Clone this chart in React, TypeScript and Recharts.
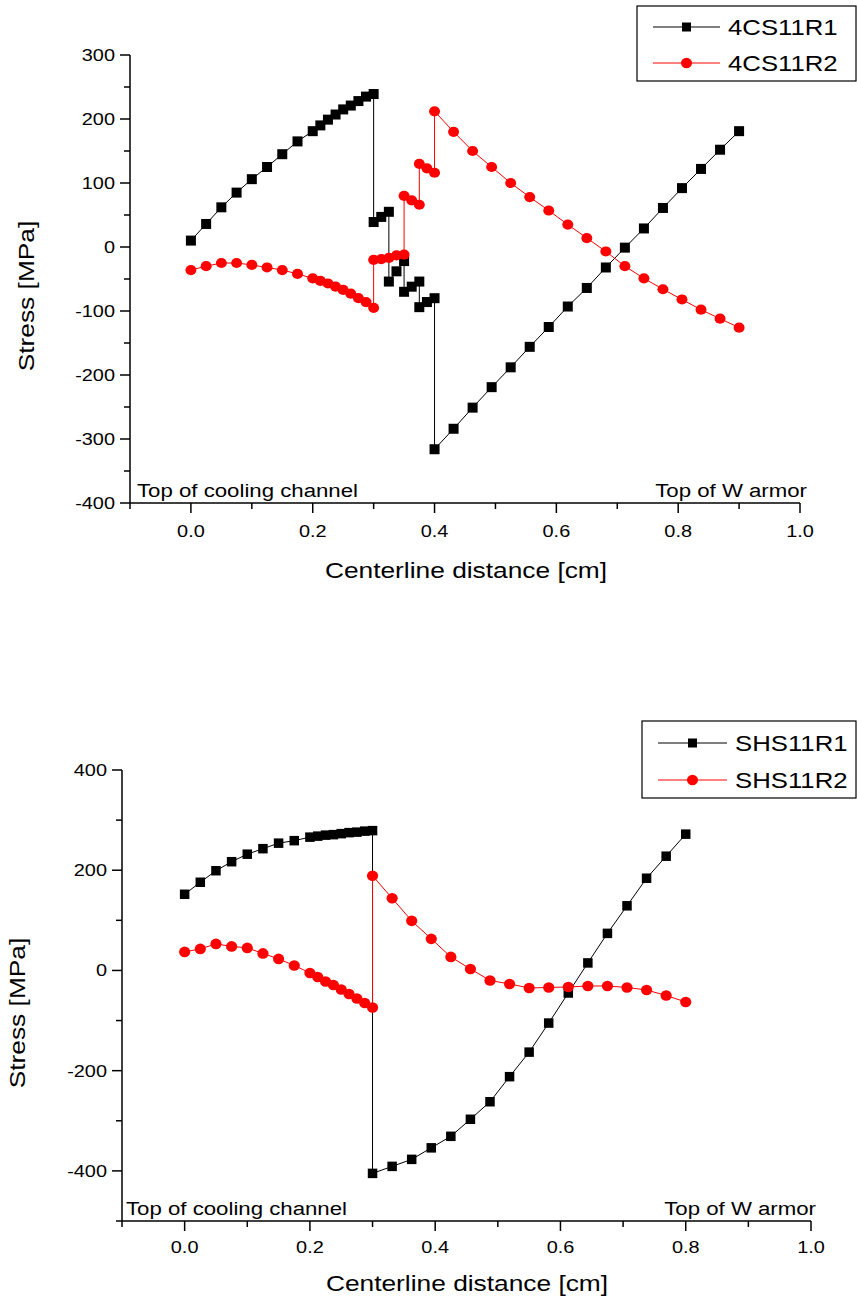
import React from "react";
import { ScatterChart, Scatter, XAxis, YAxis } from "recharts";

const FONT = '"Liberation Sans", Arial, Helvetica, sans-serif';
const SX = 1.17; // the reference text is a little wider than plain Arial

// ---- top panel: 4CS11 ----
const topNames = ["4CS11R1", "4CS11R2"];
const topXR1 = [
  0, 0.025, 0.05, 0.075, 0.1, 0.125, 0.15, 0.175, 0.2, 0.2125, 0.225, 0.2375, 0.25, 0.2625, 0.275, 0.2875, 0.3,
  0.3, 0.3125, 0.325, 0.325, 0.3375, 0.35, 0.35, 0.3625, 0.375, 0.375, 0.3875, 0.4,
  0.4, 0.43125, 0.4625, 0.49375, 0.525, 0.55625, 0.5875, 0.61875, 0.65, 0.68125, 0.7125, 0.74375, 0.775, 0.80625,
  0.8375, 0.86875, 0.9,
];
const topYR1 = [
  10, 36, 62, 85, 106, 125, 145, 165, 181, 190, 199, 207, 215, 221, 228, 235, 239,
  39, 47, 55, -54, -38, -22, -70, -62, -54, -94, -86, -80,
  -316, -284, -251, -219, -188, -156, -125, -93, -64, -32, -1, 29, 61, 92, 122, 152, 181,
];
const topXR2 = [
  0, 0.025, 0.05, 0.075, 0.1, 0.125, 0.15, 0.175, 0.2, 0.2125, 0.225, 0.2375, 0.25, 0.2625, 0.275, 0.2875, 0.3,
  0.3, 0.3125, 0.325, 0.3375, 0.35, 0.35, 0.3625, 0.375, 0.375, 0.3875, 0.4,
  0.4, 0.43125, 0.4625, 0.49375, 0.525, 0.55625, 0.5875, 0.61875, 0.65, 0.68125, 0.7125, 0.74375, 0.775, 0.80625,
  0.8375, 0.86875, 0.9,
];
const topYR2 = [
  -36, -30, -25, -25, -28, -32, -36, -42, -49, -53, -57, -62, -67, -73, -80, -86, -95,
  -20, -19, -17, -13, -12, 80, 73, 66, 130, 123, 116,
  212, 180, 150, 125, 100, 78, 57, 35, 14, -7, -30, -49, -66, -82, -98, -112, -126,
];
const topYTicks = [-400, -350, -300, -250, -200, -150, -100, -50, 0, 50, 100, 150, 200, 250, 300];

// ---- bottom panel: SHS11 ----
const botNames = ["SHS11R1", "SHS11R2"];
const botX = [
  0, 0.025, 0.05, 0.075, 0.1, 0.125, 0.15, 0.175, 0.2, 0.2125, 0.225, 0.2375, 0.25, 0.2625, 0.275, 0.2875, 0.3,
  0.3, 0.33125, 0.3625, 0.39375, 0.425, 0.45625, 0.4875, 0.51875, 0.55, 0.58125, 0.6125, 0.64375, 0.675, 0.70625,
  0.7375, 0.76875, 0.8,
];
const botYR1 = [
  152, 176, 199, 217, 232, 243, 254, 259, 266, 268, 270, 271, 273, 275, 276, 278, 279,
  -405, -391, -377, -354, -331, -297, -262, -212, -163, -105, -45, 15, 74, 129, 184, 228, 272,
];
const botYR2 = [
  37, 43, 53, 48, 45, 34, 23, 10, -5, -13, -22, -29, -38, -47, -56, -65, -74,
  189, 144, 99, 63, 27, 3, -20, -27, -35, -34, -33, -31, -31, -34, -39, -50, -63,
];
const botYTicks = [-500, -400, -300, -200, -100, 0, 100, 200, 300, 400];

const xTicks = [-0.1, 0, 0.1, 0.2, 0.3, 0.4, 0.5, 0.6, 0.7, 0.8, 0.9, 1.0];

const zip = (xs: number[], ys: number[]) => xs.map((x, i) => ({ x, y: ys[i] }));

function YTick(props: any) {
  const { x, y, payload, step } = props;
  const v = payload.value;
  const major = Math.abs(v % step) < 1e-6;
  return (
    <g>
      <line x1={x} x2={x - (major ? 10 : 6)} y1={y} y2={y} stroke="#000" strokeWidth={1.5} />
      {major && (
        <text
          transform={`translate(${x - 15},${y + 6}) scale(${SX},1)`}
          textAnchor="end"
          fontSize={17}
          fontFamily={FONT}
          fill="#000"
        >
          {v}
        </text>
      )}
    </g>
  );
}

function XTick(props: any) {
  const { x, y, payload, dy } = props;
  const v = payload.value;
  const major = Math.round(v * 10) % 2 === 0;
  return (
    <g>
      <line x1={x} x2={x} y1={y} y2={y + (major ? 10 : 6)} stroke="#000" strokeWidth={1.5} />
      {major && (
        <text
          transform={`translate(${x},${y + dy}) scale(${SX},1)`}
          textAnchor="middle"
          fontSize={17}
          fontFamily={FONT}
          fill="#000"
        >
          {v.toFixed(1)}
        </text>
      )}
    </g>
  );
}

const square = (size: number) => (p: any) =>
  <rect x={p.cx - size / 2} y={p.cy - size / 2} width={size} height={size} fill="#000" />;
const dot = (rx: number, ry: number) => (p: any) =>
  <ellipse cx={p.cx} cy={p.cy} rx={rx} ry={ry} fill="#ff0000" />;

function Panel(props: {
  top: number; height: number; margin: any; yDomain: number[]; yTicks: number[]; yStep: number;
  r1: { x: number; y: number }[]; r2: { x: number; y: number }[]; sq: number; rx: number; ry: number; labelDy: number;
}) {
  const { top, height, margin, yDomain, yTicks, yStep, r1, r2, sq, rx, ry, labelDy } = props;
  return (
    <div style={{ position: "absolute", left: 0, top }}>
      <ScatterChart width={857} height={height} margin={margin}>
        <XAxis
          type="number"
          dataKey="x"
          domain={[-0.1, 1.0]}
          ticks={xTicks}
          interval={0}
          height={40}
          tickSize={0}
          tickMargin={0}
          axisLine={{ stroke: "#000", strokeWidth: 1.5 }}
          tick={(p: any) => <XTick {...p} dy={labelDy} />}
          allowDataOverflow
        />
        <YAxis
          type="number"
          dataKey="y"
          domain={yDomain}
          ticks={yTicks}
          interval={0}
          width={60}
          tickSize={0}
          tickMargin={0}
          axisLine={{ stroke: "#000", strokeWidth: 1.5 }}
          tick={(p: any) => <YTick {...p} step={yStep} />}
          allowDataOverflow
        />
        <Scatter data={r1} line={{ stroke: "#000", strokeWidth: 1 }} shape={square(sq)} isAnimationActive={false} />
        <Scatter data={r2} line={{ stroke: "#ff0000", strokeWidth: 1 }} shape={dot(rx, ry)} isAnimationActive={false} />
      </ScatterChart>
    </div>
  );
}

function Txt(props: { x: number; y: number; size: number; anchor?: string; rotate?: boolean; children: any }) {
  const { x, y, size, anchor = "start", rotate, children } = props;
  return (
    <text
      transform={`translate(${x},${y})${rotate ? " rotate(-90)" : ""} scale(${SX},1)`}
      textAnchor={anchor}
      fontSize={size}
      fontFamily={FONT}
      fill="#000"
    >
      {children}
    </text>
  );
}

function LegendBox(props: { x: number; y: number; w: number; h: number; rows: number[]; l0: number; l1: number; tx: number; names: string[] }) {
  const { x, y, w, h, rows, l0, l1, tx, names } = props;
  const mid = (l0 + l1) / 2;
  return (
    <g>
      <rect x={x} y={y} width={w} height={h} fill="#fff" stroke="#000" strokeWidth={1.2} />
      <line x1={l0} x2={l1} y1={rows[0]} y2={rows[0]} stroke="#000" strokeWidth={1} />
      <rect x={mid - 4.5} y={rows[0] - 4.5} width={9} height={9} fill="#000" />
      <line x1={l0} x2={l1} y1={rows[1]} y2={rows[1]} stroke="#ff0000" strokeWidth={1} />
      <ellipse cx={mid} cy={rows[1]} rx={5.5} ry={5.2} fill="#ff0000" />
      <Txt x={tx} y={rows[0] + 8} size={22}>{names[0]}</Txt>
      <Txt x={tx} y={rows[1] + 8} size={22}>{names[1]}</Txt>
    </g>
  );
}

export default function App() {
  return (
    <div style={{ position: "absolute", left: 0, top: 0, width: 857, height: 1301, background: "#fff" }}>
      <Panel
        top={0}
        height={620}
        margin={{ top: 55, right: 57, bottom: 77, left: 70 }}
        yDomain={[-400, 300]}
        yTicks={topYTicks}
        yStep={100}
        r1={zip(topXR1, topYR1)}
        r2={zip(topXR2, topYR2)}
        sq={10}
        rx={5.5}
        ry={5.1}
        labelDy={34}
      />
      <Panel
        top={660}
        height={641}
        margin={{ top: 110, right: 46, bottom: 40, left: 62 }}
        yDomain={[-500, 400]}
        yTicks={botYTicks}
        yStep={200}
        r1={zip(botX, botYR1)}
        r2={zip(botX, botYR2)}
        sq={9.5}
        rx={5.6}
        ry={5.3}
        labelDy={32}
      />
      <svg width={857} height={1301} style={{ position: "absolute", left: 0, top: 0, pointerEvents: "none" }}>
        <Txt x={34} y={296} size={22.5} anchor="middle" rotate>Stress [MPa]</Txt>
        <Txt x={466} y={578} size={22.5} anchor="middle">Centerline distance [cm]</Txt>
        <Txt x={137} y={497} size={19}>Top of cooling channel</Txt>
        <Txt x={807} y={497} size={19} anchor="end">Top of W armor</Txt>
        <LegendBox x={637} y={6} w={219} h={75} rows={[27, 63]} l0={653} l1={720} tx={728} names={topNames} />

        <Txt x={25} y={1013} size={22.5} anchor="middle" rotate>Stress [MPa]</Txt>
        <Txt x={467} y={1291} size={22.5} anchor="middle">Centerline distance [cm]</Txt>
        <Txt x={126} y={1215} size={19}>Top of cooling channel</Txt>
        <Txt x={816} y={1215} size={19} anchor="end">Top of W armor</Txt>
        <LegendBox x={642} y={721} w={214} h={77} rows={[743, 780]} l0={658} l1={727} tx={735} names={botNames} />
      </svg>
    </div>
  );
}
